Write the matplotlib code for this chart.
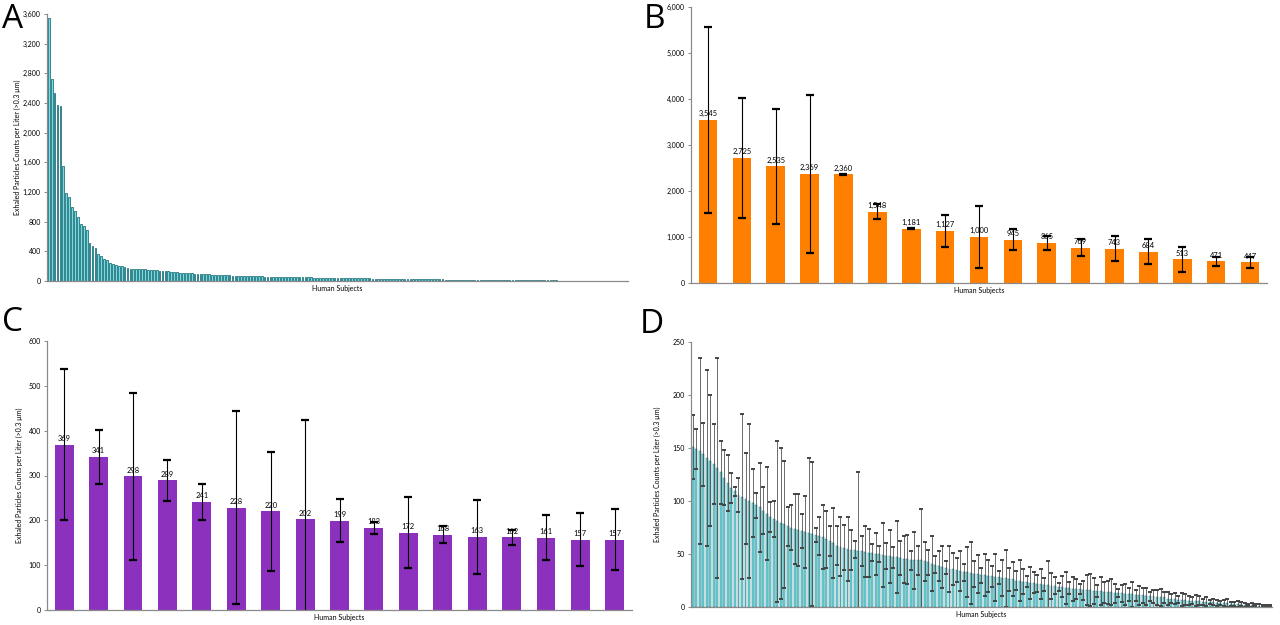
import matplotlib
matplotlib.use("Agg")
import matplotlib.pyplot as plt
from matplotlib.ticker import FuncFormatter, MultipleLocator
import numpy as np

plt.rcParams['font.family'] = ['Lato', 'DejaVu Sans']

# ---------------- data ----------------
b_values = [3545, 2725, 2535, 2369, 2360, 1548, 1181, 1127, 1000, 945, 865, 769, 743, 684, 513, 471, 447]
b_sd = [2030, 1307, 1256, 1718, 10, 166, 8, 354, 680, 231, 155, 180, 270, 275, 264, 94, 119]

c_values = [369, 341, 298, 289, 241, 228, 220, 202, 199, 183, 172, 168, 163, 162, 161, 157, 157]
c_sd = [168, 60, 186, 46, 40, 215, 132, 222, 48, 13, 79, 19, 83, 16, 50, 59, 68]

d_values = [
    151, 149, 147, 144, 141, 138, 135, 131, 127, 122,
    117, 112, 109, 106, 104, 102, 100, 98, 96, 94,
    91, 88, 85, 83, 81, 79, 78, 76, 75, 74,
    73, 72, 71, 70, 69, 68, 67, 66, 64, 62,
    60, 58, 57, 56, 55, 54, 54, 53, 53, 52,
    51, 51, 50, 50, 49, 48, 48, 47, 47, 46,
    45, 45, 44, 44, 44, 44, 43, 42, 41, 40,
    39, 38, 37, 36, 36, 35, 34, 33, 33, 32,
    31, 31, 30, 30, 29, 29, 28, 28, 27, 27,
    26, 26, 25, 25, 24, 24, 23, 23, 22, 22,
    21, 21, 20, 20, 19, 19, 18, 18, 17, 17,
    17, 16, 16, 16, 15, 15, 15, 14, 14, 14,
    13, 13, 13, 12, 12, 12, 11, 11, 11, 10,
    10, 10, 9, 9, 9, 8, 8, 8, 7, 7,
    7, 6, 6, 6, 6, 5, 5, 5, 5, 4,
    4, 4, 4, 3, 3, 3, 3, 2, 2, 2,
    2, 1, 1, 1, 1]
d_sd = [
    30, 19, 88, 30, 83, 62, 38, 104, 30, 26,
    26, 14, 4, 16, 78, 43, 73, 32, 12, 42,
    22, 44, 14, 17, 76, 71, 60, 18, 21, 33,
    34, 16, 34, 71, 68, 7, 18, 30, 27, 14,
    33, 18, 28, 21, 30, 19, 8, 74, 14, 24,
    23, 8, 20, 8, 30, 12, 25, 10, 34, 16,
    22, 23, 9, 27, 14, 48, 18, 12, 26, 8,
    14, 20, 6, 22, 15, 11, 19, 8, 24, 29,
    12, 18, 7, 20, 15, 10, 22, 6, 17, 27,
    11, 16, 9, 19, 12, 5, 15, 10, 8, 14,
    6, 22, 12, 8, 4, 10, 15, 6, 11, 9,
    5, 9, 14, 15, 12, 6, 13, 10, 11, 12,
    9, 4, 8, 10, 6, 12, 5, 9, 7, 8,
    4, 6, 7, 8, 5, 6, 4, 5, 3, 6,
    5, 4, 3, 5, 4, 3, 4, 2, 3, 3,
    2, 3, 4, 2, 2, 3, 2, 2, 1, 2,
    1, 2, 1, 1, 1]

a_values = b_values + c_values + d_values

xlabel_text = "Human Subjects"
ylabel_text = "Exhaled Particles Counts per Liter (>0.3 \u00b5m)"

# ---------------- style ----------------
TEAL_FACE = '#74dde4'
TEAL_EDGE = '#22747c'
ORANGE = '#ff8000'
PURPLE = '#8b31bd'
SPINE = '#8a8a8a'
TICK_FS = 5.0
LAB_FS = 5.0

W, H = 1280, 625
fig = plt.figure(figsize=(W / 100, H / 100), dpi=100)


def px_axes(left, top, right, bottom):
    return fig.add_axes([left / W, 1 - bottom / H, (right - left) / W, (bottom - top) / H])


def style(ax, ymax, step):
    for s in ['top', 'right']:
        ax.spines[s].set_visible(False)
    for s in ['left', 'bottom']:
        ax.spines[s].set_color(SPINE)
        ax.spines[s].set_linewidth(0.9)
    ax.set_ylim(0, ymax)
    ax.yaxis.set_major_locator(MultipleLocator(step))
    ax.yaxis.set_major_formatter(FuncFormatter(lambda v, p: f"{int(v):,}"))
    ax.tick_params(axis='y', labelsize=TICK_FS, length=2.5, width=0.7, color=SPINE, pad=2)
    ax.set_xticks([])
    ax.set_xlabel(xlabel_text, fontsize=LAB_FS, labelpad=3)


# ---------- Panel A ----------
axA = px_axes(47, 14, 628, 281)
xa = np.arange(len(a_values))
axA.bar(xa, a_values, width=0.6, color=TEAL_FACE, edgecolor=TEAL_EDGE, linewidth=0.6)
axA.set_xlim(-0.6, len(a_values) - 0.4)
style(axA, 3600, 400)
axA.set_ylabel(ylabel_text, fontsize=LAB_FS, labelpad=1)

# ---------- Panel B ----------
axB = px_axes(691, 7, 1267, 283)
xb = np.arange(len(b_values))
axB.bar(xb, b_values, width=0.55, color=ORANGE, edgecolor='none')
axB.errorbar(xb, b_values, yerr=b_sd, fmt='none', ecolor='black', elinewidth=0.8,
             capsize=2.6, capthick=1.6)
for x, v in zip(xb, b_values):
    axB.text(x, v + 60, f"{v:,}", ha='center', va='bottom', fontsize=5.4)
axB.set_xlim(-0.5, len(b_values) - 0.5)
style(axB, 6000, 1000)

# ---------- Panel C ----------
axC = px_axes(47, 341, 632, 610)
xc = np.arange(len(c_values))
axC.bar(xc, c_values, width=0.55, color=PURPLE, edgecolor='none')
axC.errorbar(xc, c_values, yerr=c_sd, fmt='none', ecolor='black', elinewidth=0.8,
             capsize=2.6, capthick=1.6)
for x, v in zip(xc, c_values):
    axC.text(x, v + 6, f"{v:,}", ha='center', va='bottom', fontsize=5.4)
axC.set_xlim(-0.5, len(c_values) - 0.5)
style(axC, 600, 100)
axC.set_ylabel(ylabel_text, fontsize=LAB_FS, labelpad=4)

# ---------- Panel D ----------
axD = px_axes(691, 342, 1272, 607)
xd = np.arange(len(d_values))
axD.bar(xd, d_values, width=0.55, color=TEAL_FACE, edgecolor=TEAL_EDGE, linewidth=0.35)
axD.errorbar(xd, d_values, yerr=d_sd, fmt='none', ecolor='#444444', elinewidth=0.55,
             capsize=1.5, capthick=1.4)
axD.set_xlim(-0.5, len(d_values) - 0.3)
style(axD, 250, 50)
axD.set_ylabel(ylabel_text, fontsize=LAB_FS, labelpad=8)

# ---------- panel letters ----------
for letter, x, y in [('A', 2, 3), ('B', 644, 3), ('C', 2, 306), ('D', 640, 308)]:
    fig.text(x / W, 1 - y / H, letter, fontsize=24, ha='left', va='top',
             family=['Open Sans', 'DejaVu Sans'])

fig.savefig('out.png', dpi=100)
